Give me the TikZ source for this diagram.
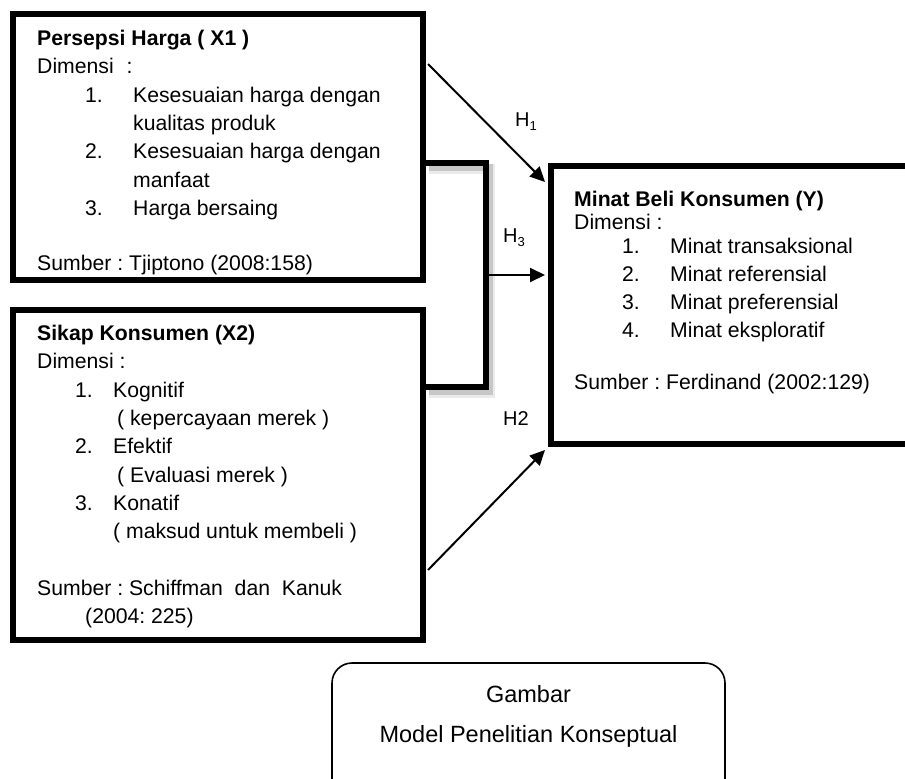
\documentclass[tikz,border=0pt]{standalone}
\usepackage{fontspec}
\setmainfont{Liberation Sans}
\usetikzlibrary{calc,arrows.meta}
\tikzset{
  bigbox/.style={draw, line width=6pt, rectangle, inner sep=0pt, line join=miter},
  txt/.style={anchor=base west, inner sep=0pt, font=\fontsize{21.2}{25}\selectfont\frenchspacing},
  btxt/.style={txt, font=\fontsize{21.2}{25}\selectfont\frenchspacing\bfseries},
  hlab/.style={anchor=base west, inner sep=0pt, font=\fontsize{20}{24}\selectfont},
  arr/.style={line width=2pt, -{Triangle[length=15pt,width=14pt]}},
  brk/.style={line width=6pt, line join=miter},
  shd/.style={line join=miter},
  captbox/.style={draw, line width=1.6pt, rounded corners=20pt, rectangle, inner sep=0pt},
  ctxt/.style={anchor=base, inner sep=0pt, font=\fontsize{23.5}{28}\selectfont}
}
\newcommand{\hsub}[1]{\raisebox{-4pt}{\fontsize{13}{13}\selectfont #1}}
\begin{document}
\begin{tikzpicture}[x=1pt,y=-1pt]
\useasboundingbox (0,0) rectangle (905,779);
\clip (0,0) rectangle (905,779);
\fill[white] (0,0) rectangle (905,779);

% boxes
\node[bigbox, minimum width=410pt, minimum height=266pt] (x1) at (218,147) {};
\node[bigbox, minimum width=410pt, minimum height=330.5pt] (x2) at (218,474.75) {};
\node[bigbox, minimum width=449pt, minimum height=278.5pt] (y) at (775.5,304.75) {};
\node[captbox, minimum width=393pt, minimum height=167pt] (cap) at (528.5,746.5) {};

% bracket coordinates
\path ($(x1.north east)+(0,152)$) coordinate (bA);
\path ($(x2.north east)+(0,80.5)$) coordinate (bD);
\path (bA) ++(60,0) coordinate (bB);
\path (bB |- bD) coordinate (bC);
\path ($(bB)!0.5!(bC)+(3,0)$) coordinate (bM);

% bracket shadow
\draw[shd, line width=10pt, black!8] ($(bA)+(3,6)$) -- ($(bB)+(4,6)$) -- ($(bC)+(4,6)$) -- ($(bD)+(3,6)$);
\draw[shd, line width=7pt, black!22] ($(bA)+(3,4)$) -- ($(bB)+(3,4)$) -- ($(bC)+(3,4)$) -- ($(bD)+(3,4)$);
% bracket
\draw[brk] (bA) -- (bB) -- (bC) -- (bD);

% arrow coordinates
\path ($(x1.north east)+(2,53)$) coordinate (h1s);
\path ($(y.north west)+(-3,19.5)$) coordinate (h1e);
\path ($(x2.north east)+(2,263.5)$) coordinate (h2s);
\path ($(y.south west)+(-3,3)$) coordinate (h2e);
\path ($(bM -| y.west)+(-3,0)$) coordinate (h3e);

\draw[arr] (h1s) -- (h1e);
\draw[arr] (h2s) -- (h2e);
\draw[arr] (bM) -- (h3e);

% labels
\node[hlab] (lh1) at (515,126) {H\hsub{1}};
\node[hlab] (lh3) at (503,242) {H\hsub{3}};
\node[hlab] (lh2) at (503,425) {H2};

% X1 text
\node[btxt] (a1) at (37,45) {Persepsi Harga ( X1 )};
\node[txt] (a2) at (37,73) {Dimensi\hspace{13pt}:};
\node[txt] (a3n) at (85,102) {1.};
\node[txt] (a3) at (133,102) {Kesesuaian harga dengan};
\node[txt] (a4) at (133,130) {kualitas produk};
\node[txt] (a5n) at (85,158) {2.};
\node[txt] (a5) at (133,158) {Kesesuaian harga dengan};
\node[txt] (a6) at (133,187) {manfaat};
\node[txt] (a7n) at (85,215) {3.};
\node[txt] (a7) at (133,215) {Harga bersaing};
\node[txt] (a8) at (37,270) {Sumber : Tjiptono (2008:158)};

% X2 text
\node[btxt] (b1) at (37,340) {Sikap Konsumen (X2)};
\node[txt] (b2) at (37,368) {Dimensi :};
\node[txt] (b3n) at (75,397) {1.};
\node[txt] (b3) at (113,397) {Kognitif};
\node[txt] (b4) at (117,425) {( kepercayaan merek )};
\node[txt] (b5n) at (75,453) {2.};
\node[txt] (b5) at (113,453) {Efektif};
\node[txt] (b6) at (117,482) {( Evaluasi merek )};
\node[txt] (b7n) at (75,510) {3.};
\node[txt] (b7) at (113,510) {Konatif};
\node[txt] (b8) at (113,538) {( maksud untuk membeli )};
\node[txt] (b9) at (37,595) {Sumber : Schiffman\ \ dan\ \ Kanuk};
\node[txt] (b10) at (85,623) {(2004: 225)};

% Y text
\node[btxt] (c1) at (574,206) {Minat Beli Konsumen (Y)};
\node[txt] (c2) at (574,229) {Dimensi :};
\node[txt] (c3n) at (622,253) {1.};
\node[txt] (c3) at (670,253) {Minat transaksional};
\node[txt] (c4n) at (622,281) {2.};
\node[txt] (c4) at (670,281) {Minat referensial};
\node[txt] (c5n) at (622,309) {3.};
\node[txt] (c5) at (670,309) {Minat preferensial};
\node[txt] (c6n) at (622,337) {4.};
\node[txt] (c6) at (670,337) {Minat eksploratif};
\node[txt] (c7) at (574,389) {Sumber : Ferdinand (2002:129)};

% caption
\node[ctxt] (g1) at (528.5,702) {Gambar};
\node[ctxt] (g2) at (528.5,742) {Model Penelitian Konseptual};
\end{tikzpicture}
\end{document}
